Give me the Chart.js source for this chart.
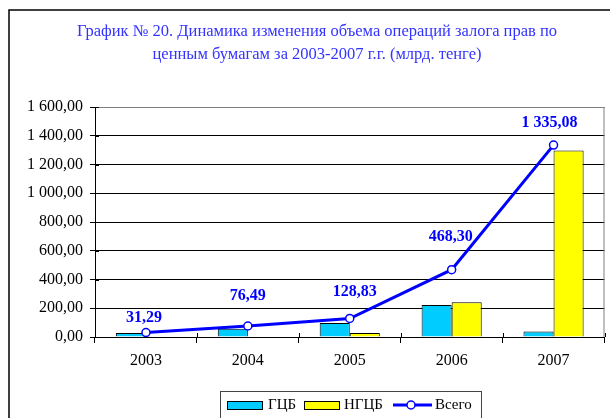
<!DOCTYPE html>
<html><head><meta charset="utf-8">
<script src="https://cdn.jsdelivr.net/npm/chart.js@4.4.1/dist/chart.umd.min.js"></script>
<style>html,body{margin:0;padding:0;background:#fff;}canvas{display:block;}</style>
</head><body>
<canvas id="c" width="610" height="418"></canvas>
<script>
const titleLines = ['График № 20. Динамика изменения объема операций залога прав по', 'ценным бумагам за 2003-2007 г.г. (млрд. тенге)'];
const categories = ['2003', '2004', '2005', '2006', '2007'];
const gcbValues = [28, 58, 97, 222, 39];
const ngcbValues = [0, 0, 28, 241, 1298];
const totalValues = [31.29, 76.49, 128.83, 468.30, 1335.08];
const seriesNames = ['ГЦБ', 'НГЦБ', 'Всего'];

function fmt(v){
  const s = Number(v).toFixed(2).split('.');
  const int = s[0].replace(/\B(?=(\d{3})+(?!\d))/g, ' ');
  return int + ',' + s[1];
}
const SERIF = '"Liberation Serif", "Times New Roman", serif';

const decor = {
  id: 'decor',
  beforeDatasetsDraw(chart){
    const {ctx, chartArea:a} = chart;
    ctx.save();
    ctx.strokeStyle = '#808080'; ctx.lineWidth = 1;
    ctx.beginPath();
    ctx.moveTo(a.left, a.top + 0.5); ctx.lineTo(a.right - 0.5, a.top + 0.5);
    ctx.lineTo(a.right - 0.5, a.bottom);
    ctx.stroke();
    // crossing tick marks (inside part)
    ctx.strokeStyle = '#000';
    ctx.beginPath();
    const xs = chart.scales.x, ys = chart.scales.y;
    for (let i = 0; i <= categories.length; i++) {
      const x = Math.round(a.left + (a.right - a.left) * i / categories.length) + 0.5;
      ctx.moveTo(x, a.bottom); ctx.lineTo(x, a.bottom - 4);
    }
    ys.ticks.forEach(t => {
      const y = Math.round(ys.getPixelForValue(t.value)) + 0.5;
      ctx.moveTo(a.left, y); ctx.lineTo(a.left + 4, y);
    });
    ctx.stroke();
    ctx.restore();
  },
  afterDraw(chart, args, opts){
    const {ctx} = chart;
    ctx.save();
    // outer border
    ctx.strokeStyle = '#000'; ctx.lineWidth = 1.5;
    ctx.strokeRect(9, 10, 800, 600);
    // title
    ctx.fillStyle = '#3333ff';
    ctx.font = '16.5px ' + SERIF;
    ctx.textAlign = 'center'; ctx.textBaseline = 'middle';
    ctx.fillText(titleLines[0], 317, 32);
    ctx.fillText(titleLines[1], 317, 55);
    // data labels
    const meta = chart.getDatasetMeta(0);
    ctx.font = 'bold 16px ' + SERIF;
    ctx.fillStyle = '#0000ff';
    meta.data.forEach((pt, i) => {
      const v = chart.data.datasets[0].data[i];
      ctx.fillText(fmt(v), pt.x + opts.dx[i], pt.y - opts.dy[i]);
    });
    // legend
    ctx.strokeStyle = '#444'; ctx.lineWidth = 1;
    ctx.strokeRect(220.5, 391.5, 261, 60);
    ctx.font = '15px ' + SERIF;
    ctx.textAlign = 'left';
    const ds = chart.data.datasets;
    const items = [
      {x: 227, label: ds[1].label, color: ds[1].backgroundColor, tx: 268},
      {x: 304, label: ds[2].label, color: ds[2].backgroundColor, tx: 344}
    ];
    items.forEach(it => {
      ctx.fillStyle = it.color;
      ctx.fillRect(it.x, 401.5, 35, 8);
      ctx.strokeStyle = '#000'; ctx.lineWidth = 1;
      ctx.strokeRect(it.x + 0.5, 401.5, 35, 8);
      ctx.fillStyle = '#000';
      ctx.fillText(it.label, it.tx, 405.5);
    });
    ctx.strokeStyle = '#0000ff'; ctx.lineWidth = 3;
    ctx.beginPath(); ctx.moveTo(393, 405); ctx.lineTo(432, 405); ctx.stroke();
    ctx.fillStyle = '#fff'; ctx.lineWidth = 1.5;
    ctx.beginPath(); ctx.arc(411, 405, 4, 0, Math.PI*2); ctx.fill(); ctx.stroke();
    ctx.fillStyle = '#000';
    ctx.fillText(ds[0].label, 435, 405.5);
    ctx.restore();
  }
};

new Chart(document.getElementById('c'), {
  type: 'bar',
  data: {
    labels: categories,
    datasets: [
      {type: 'line', label: seriesNames[2], data: totalValues, borderColor: '#0000ff', borderWidth: 3,
       pointRadius: 4, pointBackgroundColor: '#ffffff', pointBorderColor: '#0000ff', pointBorderWidth: 1.5,
       tension: 0, order: 0},
      {label: seriesNames[0], data: gcbValues, backgroundColor: '#00ccff', borderColor: '#000', borderWidth: 1,
       barPercentage: 1, categoryPercentage: 0.59, order: 1},
      {label: seriesNames[1], data: ngcbValues, backgroundColor: '#ffff00', borderColor: '#000', borderWidth: 1,
       barPercentage: 1, categoryPercentage: 0.59, order: 1}
    ]
  },
  options: {
    responsive: false, animation: false, devicePixelRatio: 1,
    layout: {padding: {top: 107, left: 0, right: 3, bottom: 0}},
    plugins: {
      legend: {display: false}, title: {display: false}, tooltip: {enabled: false},
      decor: {dx: [-2, 0, 5, -1, -4], dy: [15, 30, 27, 33, 22]}
    },
    scales: {
      x: {
        grid: {drawOnChartArea: false, color: '#000', tickLength: 6, offset: true},
        border: {color: '#000', width: 1},
        ticks: {color: '#000', font: {family: SERIF, size: 16}, padding: 8},
        afterFit(s){ s.height = 81; }
      },
      y: {
        min: 0, max: 1600,
        grid: {color: '#000', tickLength: 5, lineWidth: 1},
        border: {color: '#000', width: 1},
        ticks: {stepSize: 200, color: '#000', font: {family: SERIF, size: 16}, padding: 7, callback: v => fmt(v)},
        afterFit(s){ s.width = 95; }
      }
    }
  },
  plugins: [decor]
});
</script>
</body></html>
